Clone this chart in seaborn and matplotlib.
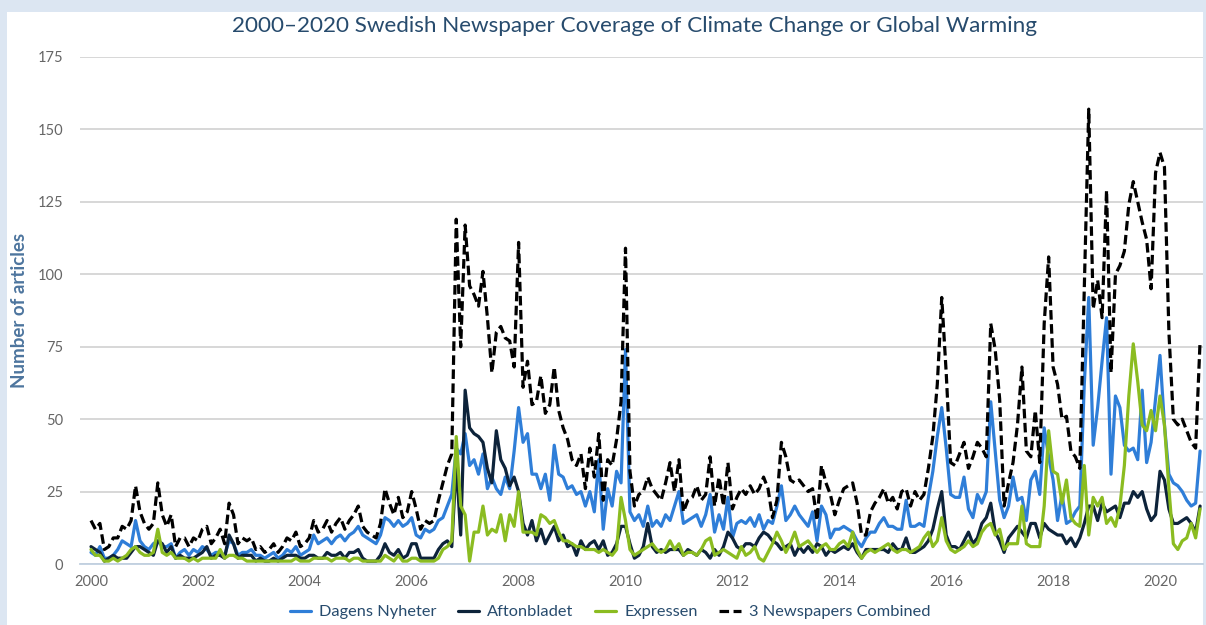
import numpy as np
import pandas as pd
import seaborn as sns
import matplotlib.pyplot as plt
from matplotlib.patches import Rectangle


# monthly article counts, Jan 2000 - Oct 2020 (one row per year)
dagens = [
    4, 3, 6, 2, 2, 3, 5, 8, 7, 6, 15, 8,
    6, 5, 7, 8, 6, 6, 7, 2, 4, 5, 3, 5,
    4, 6, 5, 3, 4, 4, 3, 8, 7, 3, 4, 4,
    5, 3, 3, 2, 3, 4, 2, 3, 5, 4, 6, 3,
    4, 5, 10, 7, 8, 9, 7, 9, 10, 8, 10, 11,
    13, 10, 9, 8, 7, 10, 16, 15, 13, 15, 13, 14,
    16, 10, 9, 12, 11, 12, 15, 16, 20, 24, 40, 38,
    45, 34, 36, 31, 38, 26, 30, 26, 24, 30, 26, 39,
    54, 42, 45, 31, 31, 26, 31, 22, 41, 31, 30, 26,
    27, 24, 25, 20, 25, 18, 36, 12, 26, 20, 32, 28,
    74, 18, 15, 17, 13, 20, 13, 15, 13, 17, 15, 20,
    25, 14, 15, 16, 17, 13, 17, 24, 11, 17, 12, 23,
    9, 14, 15, 14, 16, 13, 17, 12, 15, 14, 20, 27,
    15, 17, 20, 17, 15, 13, 18, 8, 20, 17, 9, 12,
    12, 13, 12, 11, 8, 6, 9, 11, 11, 14, 16, 13,
    13, 12, 12, 22, 13, 13, 14, 13, 23, 32, 44, 54,
    40, 24, 23, 23, 30, 19, 16, 24, 21, 25, 56, 39,
    22, 16, 20, 30, 22, 23, 15, 29, 32, 24, 47, 37,
    29, 15, 24, 14, 15, 18, 20, 62, 92, 41, 54, 70,
    85, 31, 58, 54, 41, 39, 40, 36, 60, 35, 42, 57,
    72, 48, 31, 28, 27, 25, 22, 20, 21, 39,
]

aftonbladet = [
    6, 5, 4, 1, 2, 3, 2, 2, 2, 4, 6, 6,
    5, 4, 3, 8, 7, 4, 6, 2, 3, 2, 2, 2,
    3, 4, 6, 2, 3, 3, 2, 10, 7, 2, 3, 3,
    3, 1, 2, 1, 1, 2, 1, 2, 3, 3, 3, 2,
    2, 3, 3, 2, 2, 4, 3, 3, 4, 2, 4, 4,
    5, 2, 1, 1, 1, 3, 7, 4, 3, 5, 2, 3,
    7, 7, 2, 2, 2, 2, 5, 7, 8, 6, 35, 10,
    60, 47, 45, 44, 42, 33, 28, 46, 36, 33, 27, 30,
    25, 14, 10, 15, 8, 12, 7, 10, 13, 8, 10, 6,
    7, 3, 8, 5, 7, 8, 5, 8, 3, 4, 7, 13,
    13, 7, 2, 3, 6, 14, 6, 4, 5, 4, 5, 5,
    5, 3, 5, 4, 3, 5, 4, 2, 5, 3, 6, 11,
    9, 6, 5, 7, 7, 6, 9, 11, 10, 8, 7, 5,
    6, 7, 3, 6, 4, 6, 4, 7, 6, 3, 5, 4,
    5, 6, 5, 7, 4, 2, 5, 5, 5, 5, 5, 4,
    7, 5, 5, 9, 4, 4, 5, 6, 8, 12, 19, 25,
    10, 6, 6, 5, 8, 11, 7, 9, 14, 16, 21, 11,
    8, 4, 9, 11, 13, 11, 9, 14, 14, 9, 14, 12,
    11, 10, 10, 7, 9, 6, 9, 14, 20, 20, 15, 21,
    18, 19, 20, 16, 21, 21, 25, 23, 25, 19, 15, 17,
    32, 29, 19, 14, 14, 15, 16, 14, 11, 20,
]

expressen = [
    5, 3, 3, 1, 1, 2, 1, 2, 3, 5, 6, 4,
    3, 3, 4, 12, 4, 3, 4, 2, 2, 2, 1, 2,
    1, 2, 2, 2, 2, 5, 2, 3, 3, 2, 2, 1,
    1, 1, 1, 1, 1, 1, 1, 1, 1, 1, 2, 1,
    1, 1, 2, 2, 2, 2, 1, 2, 2, 2, 1, 2,
    2, 1, 1, 1, 1, 1, 3, 2, 1, 3, 1, 1,
    2, 2, 1, 1, 1, 1, 2, 5, 6, 8, 44, 20,
    17, 1, 11, 11, 20, 10, 12, 11, 17, 8, 17, 13,
    25, 11, 11, 11, 10, 17, 16, 14, 15, 11, 8, 8,
    7, 6, 6, 5, 5, 5, 4, 5, 4, 3, 5, 23,
    15, 5, 3, 4, 5, 6, 7, 5, 4, 5, 8, 5,
    7, 3, 4, 4, 3, 5, 8, 9, 3, 4, 5, 4,
    3, 2, 6, 3, 4, 6, 2, 1, 4, 7, 11, 8,
    4, 7, 11, 6, 7, 8, 6, 4, 6, 7, 5, 5,
    7, 8, 6, 11, 5, 2, 4, 5, 4, 5, 6, 7,
    5, 4, 5, 5, 4, 5, 6, 9, 11, 6, 8, 16,
    8, 5, 4, 5, 6, 8, 6, 7, 11, 13, 14, 10,
    12, 5, 7, 7, 7, 20, 7, 6, 6, 6, 20, 46,
    32, 31, 21, 29, 16, 14, 13, 34, 10, 23, 20, 23,
    14, 16, 13, 20, 34, 58, 76, 63, 48, 46, 53, 46,
    58, 48, 26, 7, 5, 8, 9, 14, 9, 19,
]

combined = [
    15, 12, 14, 5, 6, 9, 9, 13, 12, 15, 27, 18,
    14, 12, 14, 28, 17, 13, 17, 6, 9, 9, 6, 9,
    8, 12, 13, 7, 9, 12, 7, 21, 17, 7, 9, 8,
    9, 5, 6, 4, 5, 7, 4, 6, 9, 8, 11, 6,
    7, 9, 15, 11, 12, 15, 11, 14, 16, 12, 15, 17,
    20, 13, 11, 10, 9, 14, 26, 21, 17, 23, 16, 18,
    25, 19, 12, 15, 14, 15, 22, 28, 34, 38, 119, 75,
    117, 96, 93, 89, 101, 85, 66, 80, 82, 78, 77, 68,
    111, 61, 70, 55, 56, 65, 52, 55, 68, 53, 47, 43,
    36, 34, 38, 26, 40, 30, 45, 22, 36, 34, 43, 56,
    109, 32, 20, 24, 25, 30, 26, 24, 22, 28, 35, 25,
    36, 18, 22, 23, 27, 22, 24, 37, 20, 30, 20, 35,
    19, 23, 26, 24, 27, 24, 26, 30, 26, 16, 22, 42,
    37, 29, 28, 29, 27, 25, 26, 15, 34, 28, 24, 17,
    22, 26, 27, 28, 21, 10, 10, 18, 21, 23, 26, 21,
    23, 19, 25, 26, 20, 25, 22, 24, 33, 44, 62, 92,
    66, 35, 34, 38, 42, 33, 37, 42, 40, 37, 83, 74,
    57, 20, 28, 35, 48, 68, 39, 37, 53, 35, 83, 106,
    68, 62, 50, 51, 39, 37, 33, 95, 157, 88, 98, 85,
    129, 66, 100, 103, 108, 124, 132, 125, 118, 112, 95, 135,
    142, 137, 80, 50, 48, 50, 46, 42, 40, 77,
]

papers = ["Dagens Nyheter", "Aftonbladet", "Expressen", "3 Newspapers Combined"]
colors = ["#2f7ed8", "#0d233a", "#8bbc21", "#000000"]
x_ticks = list(range(2000, 2021, 2))
y_ticks = [0, 25, 50, 75, 100, 125, 150, 175]

months = np.arange(len(dagens))
years = 2000 + months / 12

df = pd.concat([
    pd.DataFrame({"year": years, "articles": vals, "paper": name})
    for name, vals in zip(papers, [dagens, aftonbladet, expressen, combined])
], ignore_index=True)

sns.set_theme(style="white")
plt.rcParams["font.family"] = ["Lato", "DejaVu Sans"]

W, H = 1206, 625
fig = plt.figure(figsize=(W / 100, H / 100), dpi=100)
fig.patch.set_facecolor("#dce6f2")
# white chart panel inside the light blue frame
panel = Rectangle((7 / W, 0), (1203 - 7) / W, (H - 12) / H,
                  transform=fig.transFigure, facecolor="white",
                  edgecolor="none", zorder=-10)
fig.add_artist(panel)

ax = fig.add_axes([80 / W, 61 / H, 1123 / W, 507 / H])
ax.set_zorder(1)
ax.set_facecolor("white")

sns.lineplot(data=df, x="year", y="articles", hue="paper", style="paper",
             hue_order=papers, style_order=papers,
             palette=dict(zip(papers, colors)),
             dashes={"Dagens Nyheter": "", "Aftonbladet": "", "Expressen": "",
                     "3 Newspapers Combined": (3, 1.4)},
             linewidth=2.3, ax=ax)

ax.set_xlim(2000 - 11 / 53.45, 2000 + 1112 / 53.45)
ax.set_ylim(0, 175)
ax.set_xticks(x_ticks)
ax.set_xticklabels([str(t) for t in x_ticks])
ax.set_yticks(y_ticks)

ax.yaxis.grid(True, color="#d4d4d4", linewidth=1.3)
ax.xaxis.grid(False)
ax.set_axisbelow(True)
for side in ["left", "right", "top"]:
    ax.spines[side].set_visible(False)
ax.spines["bottom"].set_color("#c0d0e0")
ax.spines["bottom"].set_linewidth(1.3)

ax.tick_params(axis="x", colors="#c0d0e0", direction="out", length=5, width=1,
               pad=3, labelcolor="#666666", labelsize=10.5)
ax.tick_params(axis="y", length=0, pad=12, labelcolor="#666666", labelsize=10.5)

ax.set_xlabel("")
ax.set_ylabel("Number of articles", color="#4d759e", fontsize=13.5, fontweight="bold")
ax.yaxis.set_label_coords(-0.046, 0.5)

fig.text(635 / W, 1 - 26 / H,
         "2000\u20132020 Swedish Newspaper Coverage of Climate Change or Global Warming",
         ha="center", va="center", fontsize=16.2, color="#274b6d")

handles, labels = ax.get_legend_handles_labels()
ax.get_legend().remove()
fig.legend(handles, labels, loc="center", bbox_to_anchor=(610 / W, 1 - 612 / H),
           ncol=4, frameon=False, fontsize=11.8, handlelength=1.3,
           handletextpad=0.5, columnspacing=1.3, labelcolor="#274b6d")

fig.savefig("out.png", dpi=100, facecolor=fig.get_facecolor())
